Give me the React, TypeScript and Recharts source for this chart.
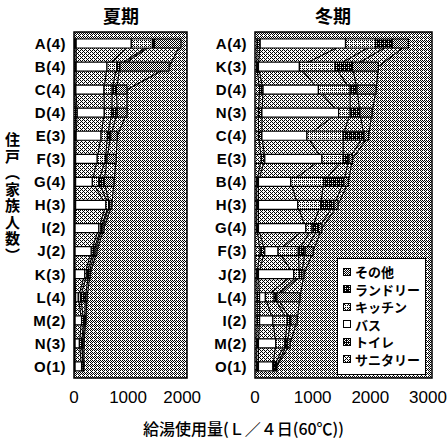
import React from "react";
import {
  ComposedChart,
  Bar,
  Area,
  XAxis,
  YAxis,
  CartesianGrid,
  ReferenceArea,
  Legend,
} from "recharts";

// 夏期 (summer) — households in the order drawn, top to bottom
const summerLabels = ["A(4)", "B(4)", "C(4)", "D(4)", "E(3)", "F(3)", "G(4)", "H(3)", "I(2)", "J(2)", "K(3)", "L(4)", "M(2)", "N(3)", "O(1)"];
const summerSanitary = [20, 15, 15, 30, 20, 15, 15, 15, 10, 10, 10, 15, 10, 10, 10];
const summerToilet = [20, 25, 20, 30, 20, 15, 15, 15, 10, 10, 10, 15, 10, 10, 10];
const summerBath = [1020, 570, 520, 500, 460, 400, 310, 560, 440, 300, 180, 50, 120, 80, 120];
const summerKitchen = [390, 180, 150, 140, 120, 150, 120, 50, 40, 40, 40, 40, 40, 40, 30];
const summerLaundry = [40, 60, 80, 100, 60, 30, 100, 20, 20, 30, 30, 90, 20, 20, 0];
const summerOther = [490, 910, 195, 180, 120, 170, 180, 40, 35, 35, 30, 30, 20, 25, 15];

// 冬期 (winter)
const winterLabels = ["A(4)", "K(3)", "D(4)", "N(3)", "C(4)", "E(3)", "B(4)", "H(3)", "G(4)", "F(3)", "J(2)", "L(4)", "I(2)", "M(2)", "O(1)"];
const winterSanitary = [40, 30, 80, 60, 60, 110, 30, 30, 30, 90, 30, 40, 40, 30, 30];
const winterToilet = [50, 30, 60, 60, 60, 60, 30, 30, 30, 80, 30, 40, 40, 30, 30];
const winterBath = [1480, 710, 960, 1330, 780, 990, 560, 680, 820, 230, 610, 100, 230, 300, 250];
const winterKitchen = [520, 620, 550, 200, 630, 370, 570, 400, 110, 350, 100, 150, 250, 160, 20];
const winterLaundry = [290, 300, 120, 170, 360, 100, 350, 230, 110, 120, 40, 50, 60, 40, 40];
const winterOther = [280, 450, 330, 210, 80, 60, 80, 70, 60, 140, 40, 400, 110, 50, 10];

// stack order, left to right
const seriesKeys = ["sanitary", "toilet", "bath", "kitchen", "laundry", "other"];
const seriesNames = ["サニタリー", "トイレ", "バス", "キッチン", "ランドリー", "その他"];
const seriesFills = ["url(#pSan)", "url(#pToi)", "#fff", "url(#pKit)", "url(#pLau)", "url(#pOth)"];

const xTicksSummer = [0, 1000, 2000];
const xTicksWinter = [0, 1000, 2000, 3000];

function buildRows(labels: string[], cols: number[][]) {
  return labels.map((label, i) => {
    const row: Record<string, string | number> = { label };
    seriesKeys.forEach((k, j) => {
      row[k] = cols[j][i];
    });
    return row;
  });
}

const summerData = buildRows(summerLabels, [summerSanitary, summerToilet, summerBath, summerKitchen, summerLaundry, summerOther]);
const winterData = buildRows(winterLabels, [winterSanitary, winterToilet, winterBath, winterKitchen, winterLaundry, winterOther]);

// 4x4 ordered dither, n of 16 pixels black
const bayer = [
  [0, 8, 2, 10],
  [12, 4, 14, 6],
  [3, 11, 1, 9],
  [15, 7, 13, 5],
];

function Dither({ id, n }: { id: string; n: number }) {
  const cells: React.ReactNode[] = [];
  bayer.forEach((r, y) =>
    r.forEach((v, x) => {
      if (v < n) cells.push(<rect key={x + "-" + y} x={x} y={y} width={1} height={1} fill="#000" />);
    })
  );
  return (
    <pattern id={id} width={4} height={4} patternUnits="userSpaceOnUse">
      <rect width={4} height={4} fill="#fff" />
      {cells}
    </pattern>
  );
}

function Patterns() {
  return (
    <svg width={0} height={0} style={{ position: "absolute" }}>
      <defs>
        <Dither id="pBg" n={7} />
        <Dither id="pArea" n={6} />
        <Dither id="pSan" n={6} />
        <Dither id="pToi" n={11} />
        <Dither id="pKit" n={5} />
        <Dither id="pLau" n={13} />
        <Dither id="pOth" n={8} />
      </defs>
    </svg>
  );
}

function LegendBox() {
  const order = [5, 4, 3, 2, 1, 0];
  return (
    <div
      style={{
        border: "1.5px solid #000",
        background: "#fff",
        padding: "4px 3px 6px 5px",
        fontFamily: "'Noto Sans CJK JP', sans-serif",
        fontWeight: 700,
        fontSize: 13,
        lineHeight: "17.5px",
        boxSizing: "border-box",
        width: 89,
      }}
    >
      {order.map((j) => (
        <div key={seriesKeys[j]} style={{ display: "flex", alignItems: "center", whiteSpace: "nowrap", height: 17.5 }}>
          <svg width={8} height={8} style={{ marginRight: 4, flex: "none" }}>
            <rect x={0.5} y={0.5} width={7} height={7} fill={seriesFills[j]} stroke="#000" />
          </svg>
          <span>{seriesNames[j]}</span>
        </div>
      ))}
    </div>
  );
}

const tickFont = { fontFamily: "'Liberation Sans', Arial, sans-serif", fontSize: 15, fontWeight: 700, fill: "#000", letterSpacing: 0.5 };
const xTickFont = { fontFamily: "'Liberation Sans', Arial, sans-serif", fontSize: 17, fill: "#000" };

interface PanelProps {
  data: Record<string, string | number>[];
  max: number;
  ticks: number[];
  width: number;
  yWidth: number;
  right: number;
  legend?: boolean;
}

function Panel({ data, max, ticks, width, yWidth, right, legend }: PanelProps) {
  return (
    <ComposedChart
      layout="vertical"
      width={width}
      height={440}
      data={data}
      margin={{ top: 32, right, bottom: 32, left: 0 }}
    >
      <CartesianGrid horizontal={false} vertical={false} fill="url(#pBg)" />
      <XAxis
        type="number"
        domain={[0, max]}
        ticks={ticks}
        allowDataOverflow
        axisLine={false}
        tickLine={false}
        tickMargin={7}
        height={30}
        tick={xTickFont}
        interval={0}
      />
      <YAxis
        type="category"
        dataKey="label"
        width={yWidth}
        axisLine={false}
        tickLine={false}
        tickMargin={2}
        tick={tickFont}
        interval={0}
      />
      {/* stipple between the bars */}
      {seriesKeys.map((k) => (
        <Area
          key={"a" + k}
          type="linear"
          dataKey={k}
          stackId="fill"
          stroke="none"
          fill="url(#pArea)"
          fillOpacity={1}
          dot={false}
          activeDot={false}
          isAnimationActive={false}
          legendType="none"
        />
      ))}
      {/* connecting lines at each cumulative boundary */}
      {seriesKeys.map((k) => (
        <Area
          key={"l" + k}
          type="linear"
          dataKey={k}
          stackId="line"
          stroke="#000"
          strokeWidth={1.1}
          fill="none"
          dot={false}
          activeDot={false}
          isAnimationActive={false}
          legendType="none"
        />
      ))}
      {seriesKeys.map((k, j) => (
        <Bar
          key={"b" + k}
          dataKey={k}
          name={seriesNames[j]}
          stackId="bar"
          barSize={9}
          fill={seriesFills[j]}
          stroke="#000"
          strokeWidth={1.2}
          isAnimationActive={false}
        />
      ))}
      <ReferenceArea x1={0} x2={max} fill="none" stroke="#000" strokeWidth={1.5} ifOverflow="visible" />
      {legend && (
        <Legend
          layout="horizontal"
          verticalAlign="middle"
          align="center"
          content={() => <LegendBox />}
          wrapperStyle={{ left: 147, top: 258, width: 89, height: 112 }}
        />
      )}
    </ComposedChart>
  );
}

const jp = "'Noto Sans CJK JP', sans-serif";

export default function App() {
  return (
    <div style={{ position: "absolute", left: 0, top: 0, width: 447, height: 440, background: "#fff", overflow: "hidden" }}>
      <Patterns />
      <div style={{ position: "absolute", left: 0, top: 0 }}>
        <Panel data={summerData} max={2090} ticks={xTicksSummer} width={205} yWidth={74} right={18} />
      </div>
      <div style={{ position: "absolute", left: 190, top: 0 }}>
        <Panel data={winterData} max={3070} ticks={xTicksWinter} width={257} yWidth={65} right={15} legend />
      </div>
      <div style={{ position: "absolute", left: 103, top: 3, fontFamily: jp, fontWeight: 700, fontSize: 18, lineHeight: "24px" }}>夏期</div>
      <div style={{ position: "absolute", left: 315, top: 3, fontFamily: jp, fontWeight: 700, fontSize: 18, lineHeight: "24px" }}>冬期</div>
      <div
        style={{
          position: "absolute",
          left: 3,
          top: 132,
          writingMode: "vertical-rl",
          fontFamily: jp,
          fontWeight: 700,
          fontSize: 15,
          letterSpacing: 1.5,
          lineHeight: "18px",
        }}
      >
        住戸（家族人数）
      </div>
      <div
        style={{
          position: "absolute",
          left: 0,
          width: 487,
          top: 418,
          textAlign: "center",
          fontFamily: jp,
          fontWeight: 500,
          fontSize: 16,
          lineHeight: "20px",
        }}
      >
        給湯使用量(Ｌ／４日(60℃))
      </div>
    </div>
  );
}
